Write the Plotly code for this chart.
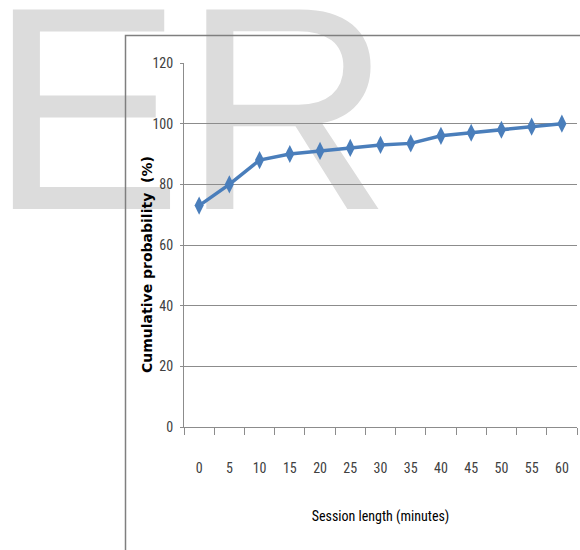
import plotly.graph_objects as go

session_length = ["0", "5", "10", "15", "20", "25", "30", "35", "40", "45", "50", "55", "60"]
cumulative_prob = [73, 80, 88, 90, 91, 92, 93, 93.5, 96, 97, 98, 99, 100]
y_ticks = [0, 20, 40, 60, 80, 100, 120]

W, H = 580, 550
L, R, T, B = 184, 3, 63, 123
PW, PH = W - L - R, H - T - B

def px(x):
    return (x - L) / PW

def py(y):
    return (H - B - y) / PH

tick_font = dict(family="Liberation Sans Narrow, Roboto Condensed, Arial Narrow, Liberation Sans", size=14, color="#404040")

fig = go.Figure()
fig.add_trace(go.Scatter(
    x=session_length, y=cumulative_prob, mode="lines+markers",
    line=dict(color="#4A7EBB", width=3.5),
    marker=dict(symbol="diamond-tall", size=13, color="#4A7EBB"),
    showlegend=False, cliponaxis=False,
))

# watermark
fig.add_shape(
    type="rect", xref="paper", yref="paper",
    x0=px(-16), x1=px(397), y0=py(202), y1=py(-40),
    line=dict(width=0), fillcolor="rgba(0,0,0,0)", layer="below",
    label=dict(text="ER", font=dict(family="Liberation Sans, Arial", size=290, color="#DCDCDC"),
               textposition="middle center"),
)
# frame
fig.add_shape(
    type="path", xref="paper", yref="paper",
    path=f"M {px(125.5)},{py(552)} L {px(125.5)},{py(35.5)} L {px(582)},{py(35.5)}",
    line=dict(color="#7F7F7F", width=1.5), layer="above",
)

fig.update_layout(
    width=W, height=H,
    margin=dict(l=L, r=R, t=T, b=B, autoexpand=False),
    paper_bgcolor="white", plot_bgcolor="rgba(0,0,0,0)",
    xaxis=dict(
        type="category", range=[-0.5, 12.5],
        showgrid=False, showline=True, linecolor="#8C8C8C", linewidth=1,
        ticks="outside", ticklen=7, tickcolor="#8C8C8C", tickson="boundaries",
        tickfont=tick_font, ticklabelstandoff=28,
        title=dict(text="Session length (minutes)",
                   font=dict(family="Liberation Sans Narrow, Roboto Condensed, Arial Narrow, Liberation Sans", size=14, color="#000000"),
                   standoff=36),
    ),
    yaxis=dict(
        range=[0, 120], tickvals=y_ticks,
        showgrid=True, gridcolor="#8C8C8C", gridwidth=1,
        showline=True, linecolor="#8C8C8C", linewidth=1,
        ticks="outside", ticklen=3, tickcolor="#8C8C8C",
        tickfont=tick_font, ticklabelstandoff=4,
        zeroline=False,
    ),
    annotations=[dict(
        text="<b>Cumulative probability&nbsp;&nbsp;(%)</b>", textangle=-90,
        xref="paper", yref="paper", x=px(147), y=py(265),
        xanchor="center", yanchor="middle", showarrow=False,
        font=dict(family="DejaVu Sans", size=14, color="#000000"),
    )],
)

fig.write_html("out.html", config={"displayModeBar": False},
               post_script="document.body.style.margin='0';document.body.style.overflow='hidden';")
